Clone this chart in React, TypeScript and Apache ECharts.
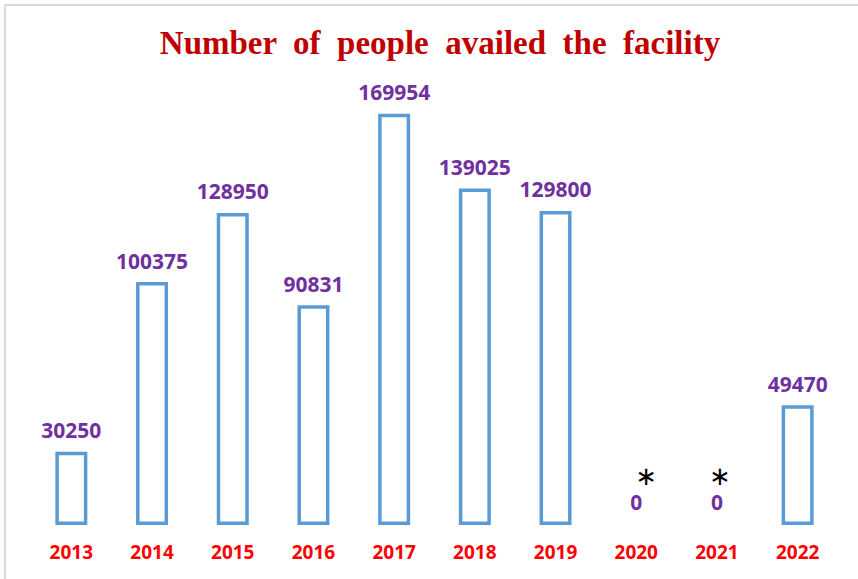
import React, { useEffect, useRef } from "react";
import * as echarts from "echarts";

const years = ["2013", "2014", "2015", "2016", "2017", "2018", "2019", "2020", "2021", "2022"];
const people = [30250, 100375, 128950, 90831, 169954, 139025, 129800, 0, 0, 49470];
const noteYears = ["2020", "2021"];

export default function App() {
  const ref = useRef<HTMLDivElement>(null);
  useEffect(() => {
    const chart = echarts.init(ref.current!, null, { renderer: "svg" });
    chart.setOption({
      animation: false,
      backgroundColor: "#ffffff",
      title: {
        text: "Number  of  people  availed  the  facility",
        left: 435,
        textAlign: "center",
        top: 21,
        textStyle: {
          fontFamily: "Liberation Serif",
          fontWeight: "bold",
          fontSize: 33,
          color: "#C00000",
        },
      },
      graphic: [
        { type: "line", shape: { x1: 5, y1: 5, x2: 858, y2: 5 }, style: { stroke: "#d9d9d9", lineWidth: 2 } },
        { type: "line", shape: { x1: 5, y1: 5, x2: 5, y2: 579 }, style: { stroke: "#d9d9d9", lineWidth: 2 } },
      ],
      grid: { left: 31, right: 20, top: 41, bottom: 54, containLabel: false },
      xAxis: {
        type: "category",
        data: years,
        axisLine: { show: false },
        axisTick: { show: false },
        axisLabel: {
          color: "#FF0000",
          fontWeight: "bold",
          fontSize: 19,
          fontFamily: "Open Sans",
          margin: 17,
        },
      },
      yAxis: {
        type: "value",
        min: 0,
        max: 200000,
        show: false,
        splitLine: { show: false },
      },
      series: [
        {
          type: "bar",
          data: people.map((v, i) =>
            noteYears.includes(years[i])
              ? { value: v, itemStyle: { borderWidth: 0, borderColor: "rgba(0,0,0,0)", color: "rgba(0,0,0,0)" } }
              : v
          ),
          barWidth: 32,
          itemStyle: { color: "#ffffff", borderColor: "#5B9BD5", borderWidth: 3.5 },
          label: {
            show: true,
            position: "top",
            distance: 11,
            fontFamily: "Open Sans",
            fontWeight: "bold",
            fontSize: 21,
            color: "#7030A0",
            formatter: (p: any) => {
              const k = noteYears.indexOf(p.name);
              return k >= 0 ? "{ast" + k + "|∗}\n{val|" + p.value + "}" : String(p.value);
            },
            rich: {
              ast0: { color: "#000000", fontSize: 26, fontWeight: "normal", fontFamily: "DejaVu Sans", padding: [0, 0, 0, 20], lineHeight: 29 },
              ast1: { color: "#000000", fontSize: 26, fontWeight: "normal", fontFamily: "DejaVu Sans", padding: [0, 0, 0, 6], lineHeight: 29 },
              val: { color: "#7030A0", fontWeight: "bold", fontSize: 21, fontFamily: "Open Sans", lineHeight: 24 },
            },
          },
        },
      ],
    });
    return () => chart.dispose();
  }, []);
  return <div ref={ref} style={{ position: "fixed", left: 0, top: 0, width: 858, height: 579 }} />;
}
